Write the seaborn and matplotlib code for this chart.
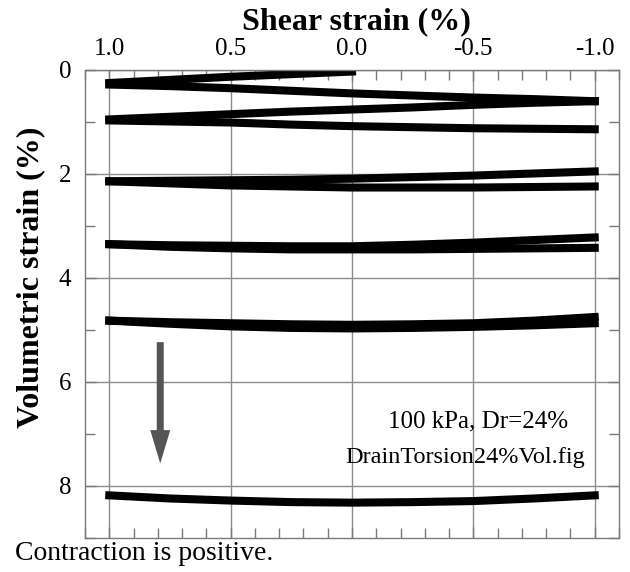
import numpy as np
import pandas as pd
import matplotlib
matplotlib.use("Agg")
import matplotlib.pyplot as plt
import seaborn as sns
from matplotlib.ticker import MultipleLocator

# shear strain sample points, left (1.0) to right (-1.0)
shear_pts = [1.0, 0.75, 0.5, 0.25, 0.0, -0.25, -0.5, -0.75, -1.0]

# initial loading from 0 to +1 %
loading_shear = [0.0, 0.5, 1.0]
loading_vol = [0.03, 0.13, 0.25]

# volumetric strain along each half cycle, read at shear_pts
cycle_b = [0.28, 0.31, 0.35, 0.40, 0.45, 0.49, 0.53, 0.56, 0.60]
cycle_c = [0.95, 0.90, 0.85, 0.80, 0.76, 0.72, 0.67, 0.63, 0.60]
cycle_d = [0.97, 0.99, 1.01, 1.05, 1.08, 1.10, 1.12, 1.13, 1.14]
cycle_e = [2.14, 2.13, 2.12, 2.11, 2.09, 2.06, 2.03, 1.99, 1.95]
cycle_f = [2.14, 2.18, 2.22, 2.24, 2.26, 2.26, 2.26, 2.25, 2.24]
cycle_h = [3.35, 3.37, 3.38, 3.39, 3.39, 3.36, 3.32, 3.27, 3.22]
cycle_g = [3.35, 3.40, 3.43, 3.45, 3.45, 3.45, 3.44, 3.43, 3.42]
cycle_i = [4.82, 4.85, 4.87, 4.89, 4.90, 4.89, 4.87, 4.82, 4.75]
cycle_j = [4.82, 4.88, 4.93, 4.96, 4.97, 4.96, 4.94, 4.91, 4.87]
cycle_k = [8.18, 8.24, 8.28, 8.31, 8.32, 8.31, 8.29, 8.24, 8.18]

x_ticks = [1.0, 0.5, 0.0, -0.5, -1.0]
x_tick_labels = ["1.0", "0.5", "0.0", "-0.5", "-1.0"]
y_ticks = [0, 2, 4, 6, 8]

frames = [pd.DataFrame({"shear": loading_shear, "vol": loading_vol, "seg": "load"})]
for name, vals in [("b", cycle_b), ("c", cycle_c), ("d", cycle_d), ("e", cycle_e),
                   ("f", cycle_f), ("h", cycle_h), ("g", cycle_g), ("i", cycle_i),
                   ("j", cycle_j), ("k", cycle_k)]:
    frames.append(pd.DataFrame({"shear": shear_pts, "vol": vals, "seg": name}))
df = pd.concat(frames, ignore_index=True)

sns.set_theme(style="ticks")
plt.rcParams["font.family"] = ["Liberation Serif", "DejaVu Serif"]
plt.rcParams["text.color"] = "black"
plt.rcParams["axes.labelcolor"] = "black"
plt.rcParams["xtick.labelcolor"] = "black"
plt.rcParams["ytick.labelcolor"] = "black"

fig = plt.figure(figsize=(6.3, 5.72), dpi=100)
ax = fig.add_axes([85 / 630, 1 - 538 / 572, (619 - 85) / 630, (538 - 70) / 572])

sns.lineplot(
    data=df, x="shear", y="vol", units="seg", estimator=None, sort=False,
    color="black", linewidth=5.8, solid_capstyle="projecting", ax=ax,
)

ax.set_xlim(1.1, -1.1)
ax.set_ylim(9, 0)
ax.set_xticks(x_ticks)
ax.set_xticklabels(x_tick_labels)
ax.set_yticks(y_ticks)
ax.xaxis.set_minor_locator(MultipleLocator(0.1))
ax.yaxis.set_minor_locator(MultipleLocator(1))

ax.grid(True, which="major", color="#8c8c8c", linewidth=1)
for sp in ax.spines.values():
    sp.set_color("#7a7a7a")
    sp.set_linewidth(1)

ax.tick_params(axis="both", which="both", direction="in", top=True, bottom=True,
               left=True, right=True, color="#7a7a7a", labelsize=18,
               labelcolor="black")
ax.tick_params(axis="x", which="both", labeltop=True, labelbottom=False, pad=7)
ax.tick_params(axis="y", pad=10)
ax.tick_params(which="major", length=8, width=1)
ax.tick_params(which="minor", length=7, width=1)

ax.set_xlabel("Shear strain (%)", fontsize=23, fontweight="bold", color="black")
ax.xaxis.set_label_position("top")
ax.xaxis.set_label_coords(0.5075, 1.088)
ax.set_ylabel("Volumetric strain (%)", fontsize=23, fontweight="bold", color="black")
ax.yaxis.set_label_coords(-0.074, 0.557)

# contraction direction arrow
ax.annotate(
    "", xy=(0.79, 7.62), xytext=(0.79, 5.18),
    arrowprops=dict(arrowstyle="simple,head_length=1.0,head_width=0.6,tail_width=0.21",
                    mutation_scale=24, color="#555555", lw=0),
)

ax.text(-0.89, 6.75, "100 kPa, Dr=24%", ha="right", va="center", fontsize=18,
        color="black")
ax.text(-0.96, 7.45, "DrainTorsion24%Vol.fig", ha="right", va="center", fontsize=17.5,
        color="black")

fig.text(15 / 630, 1 - 553 / 572, "Contraction is positive.", ha="left", va="center",
         fontsize=20, color="black")

fig.savefig("out.png", dpi=100)
